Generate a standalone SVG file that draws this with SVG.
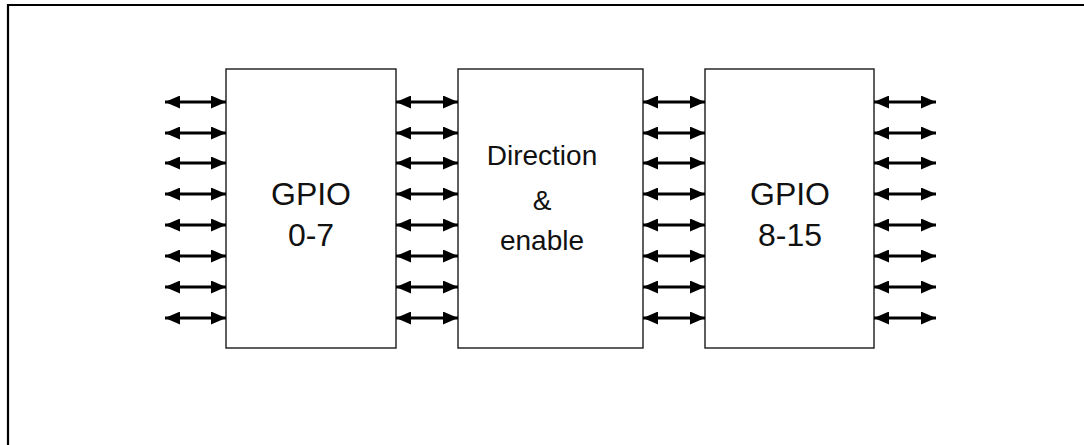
<svg xmlns="http://www.w3.org/2000/svg" width="1084" height="445" viewBox="0 0 1084 445">
  <style>
    .box { fill: #ffffff; stroke: #1a1a1a; stroke-width: 1.4; }
    .lbl { font-family: "Liberation Sans", Arial, sans-serif; fill: #111111; text-anchor: middle; }
    .big { font-size: 32px; }
    .mid { font-size: 28px; }
    .arr { stroke: #000000; stroke-width: 3; fill: none; marker-start: url(#head); marker-end: url(#head); }
  </style>
  <defs>
    <marker id="head" markerUnits="userSpaceOnUse" markerWidth="15" markerHeight="13" viewBox="0 0 15 13" refX="15" refY="6.5" orient="auto-start-reverse">
      <path d="M0,0 L15,6.5 L0,13 Z" fill="#000000"/>
    </marker>
  </defs>
  <rect x="0" y="0" width="1084" height="445" fill="#ffffff"/>
  <path d="M8,450 V5 H1090" fill="none" stroke="#000000" stroke-width="2.2"/>

  <g id="gpio-0-7">
    <rect class="box" x="226" y="69" width="170" height="279"/>
    <text class="lbl big" x="311" y="205">GPIO</text>
    <text class="lbl big" x="311" y="246">0-7</text>
  </g>
  <g id="direction-enable">
    <rect class="box" x="458" y="69" width="185" height="279"/>
    <text class="lbl mid" x="542" y="165">Direction</text>
    <text class="lbl mid" x="542" y="210">&amp;</text>
    <text class="lbl mid" x="542" y="250">enable</text>
  </g>
  <g id="gpio-8-15">
    <rect class="box" x="705" y="69" width="169" height="279"/>
    <text class="lbl big" x="790" y="205">GPIO</text>
    <text class="lbl big" x="790" y="246">8-15</text>
  </g>

  <g id="connectors">
    <line class="arr" x1="165" y1="102" x2="226" y2="102"/>
    <line class="arr" x1="165" y1="133" x2="226" y2="133"/>
    <line class="arr" x1="165" y1="163" x2="226" y2="163"/>
    <line class="arr" x1="165" y1="194" x2="226" y2="194"/>
    <line class="arr" x1="165" y1="225" x2="226" y2="225"/>
    <line class="arr" x1="165" y1="256" x2="226" y2="256"/>
    <line class="arr" x1="165" y1="287" x2="226" y2="287"/>
    <line class="arr" x1="165" y1="318" x2="226" y2="318"/>

    <line class="arr" x1="396" y1="102" x2="458" y2="102"/>
    <line class="arr" x1="396" y1="133" x2="458" y2="133"/>
    <line class="arr" x1="396" y1="163" x2="458" y2="163"/>
    <line class="arr" x1="396" y1="194" x2="458" y2="194"/>
    <line class="arr" x1="396" y1="225" x2="458" y2="225"/>
    <line class="arr" x1="396" y1="256" x2="458" y2="256"/>
    <line class="arr" x1="396" y1="287" x2="458" y2="287"/>
    <line class="arr" x1="396" y1="318" x2="458" y2="318"/>

    <line class="arr" x1="643" y1="102" x2="705" y2="102"/>
    <line class="arr" x1="643" y1="133" x2="705" y2="133"/>
    <line class="arr" x1="643" y1="163" x2="705" y2="163"/>
    <line class="arr" x1="643" y1="194" x2="705" y2="194"/>
    <line class="arr" x1="643" y1="225" x2="705" y2="225"/>
    <line class="arr" x1="643" y1="256" x2="705" y2="256"/>
    <line class="arr" x1="643" y1="287" x2="705" y2="287"/>
    <line class="arr" x1="643" y1="318" x2="705" y2="318"/>

    <line class="arr" x1="874" y1="102" x2="936" y2="102"/>
    <line class="arr" x1="874" y1="133" x2="936" y2="133"/>
    <line class="arr" x1="874" y1="163" x2="936" y2="163"/>
    <line class="arr" x1="874" y1="194" x2="936" y2="194"/>
    <line class="arr" x1="874" y1="225" x2="936" y2="225"/>
    <line class="arr" x1="874" y1="256" x2="936" y2="256"/>
    <line class="arr" x1="874" y1="287" x2="936" y2="287"/>
    <line class="arr" x1="874" y1="318" x2="936" y2="318"/>
  </g>
</svg>
